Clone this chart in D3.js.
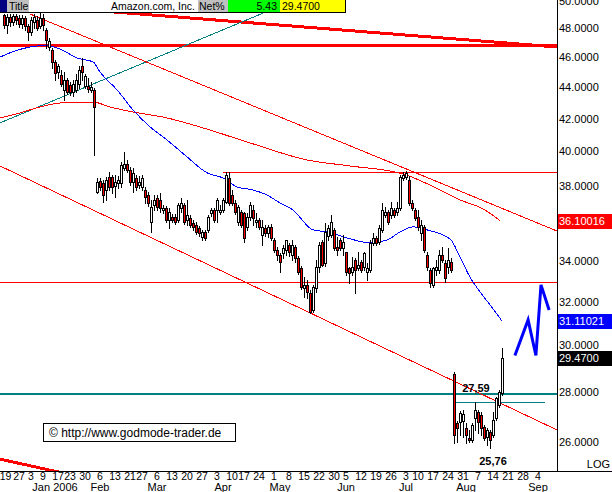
<!DOCTYPE html>
<html><head><meta charset="utf-8">
<script src="https://cdn.jsdelivr.net/npm/d3@7/dist/d3.min.js"></script>
<style>
body{margin:0;background:#fff}
svg{display:block}
text{font-family:"Liberation Sans",Arial,sans-serif}
</style>
</head><body>
<svg id="chart" width="612" height="492"></svg>
<script>
// ---------- DATA ----------
// trading-day index (0 = 3 Jan 2006)
const dayIndex = [-9,-8,-7,-6,-5,-4,-3,-2,-1,0,1,2,3,4,5,6,7,8,9,10,11,12,13,14,15,16,17,18,19,20,21,22,23,24,25,26,27,28,29,30,31,32,33,34,35,36,37,38,39,40,41,42,43,44,45,46,47,48,49,50,51,52,53,54,55,56,57,58,59,60,61,62,63,64,65,66,67,68,69,70,71,72,73,74,75,76,77,78,79,80,81,82,83,84,85,86,87,88,89,90,91,92,93,94,95,96,97,98,99,100,101,102,103,104,105,106,107,108,109,110,111,112,113,114,115,116,117,118,119,120,121,122,123,124,125,126,127,128,129,130,131,132,133,134,135,136,137,138,139,140,141,142,143,144,145,146,147,148,149,150,151,152,153,154,155,156,157];
const openP = [48.97,48.25,48.82,48.47,48.90,48.75,48.32,48.75,48.18,
47.75,48.47,48.61,48.18,48.75,47.89,46.70,46.49,45.68,45.00,
44.80,43.82,44.47,44.14,43.69,43.82,44.21,45.41,44.08,44.08,
43.82,43.82,37.67,38.29,38.17,37.78,38.52,38.52,38.01,38.17,
38.17,39.03,39.27,38.92,38.23,38.46,38.06,37.95,37.78,37.50,
36.03,36.95,37.33,37.23,36.68,36.79,36.14,36.30,36.30,36.14,
36.79,36.95,36.14,36.25,35.98,35.87,35.71,35.24,35.50,35.61,
36.52,36.68,36.68,36.57,36.68,37.11,38.46,37.50,37.06,36.03,
36.57,36.52,35.77,36.30,36.68,36.03,36.14,35.34,35.71,35.45,
35.77,35.08,34.57,34.31,34.41,34.57,34.82,34.31,34.72,34.16,
33.66,32.67,32.82,32.43,31.62,32.67,33.71,34.98,33.91,35.29,
35.34,35.61,34.72,35.08,34.67,34.46,33.66,33.46,34.06,33.66,
33.96,33.71,33.46,33.56,34.93,35.19,34.98,35.61,36.41,36.57,
36.41,36.68,36.57,36.79,38.46,38.52,38.35,37.06,36.68,36.30,
35.45,35.77,34.31,33.56,32.82,33.56,33.56,34.31,33.91,33.71,
33.96,28.76,26.75,26.79,26.83,26.55,26.16,26.08,26.95,27.19,
27.07,26.59,26.20,26.39,26.27,26.95,27.47,27.96];
const highP = [49.04,49.04,49.04,49.04,49.04,48.97,48.97,48.90,48.32,
48.82,49.04,48.90,49.10,49.04,48.03,47.33,46.63,45.81,45.54,
45.14,45.00,44.60,44.34,44.47,44.87,45.41,45.95,44.87,44.60,
44.34,43.95,38.46,38.46,38.35,38.52,38.80,38.63,38.63,38.57,
39.38,39.97,39.50,39.09,39.03,38.63,38.57,38.63,37.95,37.67,
37.23,37.50,37.50,37.61,36.95,36.90,36.79,36.46,36.46,37.06,
37.33,37.06,37.23,36.41,36.14,36.03,35.82,35.61,35.61,36.41,
36.79,36.79,37.33,36.95,37.33,38.80,38.80,37.78,37.23,36.95,
36.68,36.57,36.52,37.11,36.95,36.52,36.25,36.14,35.87,35.87,
35.92,35.19,34.72,34.41,34.82,35.08,34.93,35.08,34.82,34.26,
33.76,33.21,33.06,32.58,32.82,34.06,34.98,35.08,35.98,35.87,
36.41,35.71,35.24,35.19,35.34,34.46,33.71,34.21,34.16,34.46,
34.06,34.46,33.91,35.08,35.45,35.29,35.87,37.06,36.84,36.68,
37.11,36.79,37.11,38.63,38.80,38.86,38.57,37.23,36.79,36.68,
36.14,35.87,34.46,33.66,33.71,34.06,34.57,34.72,34.06,34.67,
34.16,28.85,26.83,27.23,27.27,26.75,26.47,26.75,27.59,27.27,
27.19,26.67,26.55,26.47,27.19,27.79,28.09,29.89];
const lowP = [48.03,47.68,48.18,48.25,48.32,48.11,48.03,47.89,47.19,
47.54,48.03,47.89,48.03,47.89,46.63,46.49,45.27,44.47,44.60,
44.08,43.17,43.56,43.49,43.43,43.69,43.95,44.47,43.95,43.69,
43.69,39.79,37.61,37.78,37.11,37.23,37.78,37.61,37.39,37.89,
37.95,38.92,38.80,38.06,37.67,37.78,37.89,37.78,37.06,36.90,
35.50,36.68,36.68,36.57,36.52,36.03,35.71,36.03,35.92,36.03,
36.57,35.92,35.87,35.77,35.61,35.40,35.29,35.08,35.08,35.50,
36.36,36.03,36.03,36.46,36.57,37.06,36.95,36.95,36.46,35.87,
35.77,34.98,35.61,36.14,35.87,35.77,35.66,34.82,35.29,35.24,
35.08,34.46,34.06,33.46,34.16,34.31,34.26,34.06,33.96,33.36,
32.62,32.24,32.19,31.48,31.53,32.48,33.46,33.76,33.76,35.08,
35.24,34.57,34.31,34.57,34.31,33.31,32.92,33.31,32.43,33.56,
33.46,33.56,33.06,33.46,34.82,34.82,34.88,35.50,36.30,35.92,
36.25,36.30,36.41,36.68,38.35,38.40,36.95,36.68,36.14,35.61,
35.08,34.46,33.56,32.72,32.72,33.31,33.41,33.96,32.96,33.41,
33.46,25.97,26.00,26.27,26.20,25.97,26.00,26.00,26.47,26.35,
26.27,26.08,25.89,25.76,26.20,26.87,27.39,27.88];
const closeP = [48.25,48.82,48.47,48.90,48.61,48.32,48.75,48.18,47.75,
48.61,48.82,48.03,48.75,48.25,47.19,47.12,45.68,44.94,45.41,
44.21,44.47,43.69,43.69,44.21,44.47,45.14,45.00,44.74,43.88,
44.01,42.72,38.23,37.95,37.50,38.35,37.95,37.95,38.23,38.35,
39.21,39.27,38.92,38.23,38.75,37.95,38.23,38.46,37.39,37.06,
36.84,37.23,36.84,36.79,36.79,36.14,36.57,36.14,36.03,36.95,
37.06,36.03,36.41,35.87,35.77,35.50,35.45,35.50,35.19,36.30,
36.68,36.14,37.23,36.68,37.23,38.63,37.06,37.06,36.57,36.84,
35.87,35.19,36.30,36.95,36.25,36.14,35.77,35.77,35.45,35.77,
35.19,34.57,34.31,33.96,34.67,35.08,34.46,34.82,34.16,33.46,
32.72,32.82,32.48,31.53,32.72,33.71,34.82,33.81,35.50,35.71,
36.03,34.67,34.57,34.67,34.98,33.46,33.41,33.71,33.56,33.81,
33.56,34.41,33.66,34.93,35.19,34.93,35.71,36.68,36.57,36.03,
36.79,36.41,36.79,38.52,38.63,38.75,37.06,36.79,36.25,35.77,
35.87,34.57,33.71,32.92,33.66,33.71,34.31,34.06,33.16,34.06,
33.56,26.27,26.55,27.15,27.11,26.27,26.08,26.67,27.27,26.79,
26.55,26.16,26.47,26.08,26.87,27.75,28.00,29.47];

// moving averages (day index, price)
const blueMaDays = [-10.3,-5.3,-0.3,4.7,9.7,15.3,20.7,23,28.7,34,39.7,45.3,52,58.7,64,68.7,74,78.7,83,87.3,94,98.7,105.3,113,118.7,123,127.3,132,139.7,143,146.3,149.7,153,157];
const blueMaVals = [46.01,46.43,46.70,46.80,46.56,45.95,45.68,45.00,43.82,42.54,41.48,40.69,39.68,38.75,38.46,37.95,37.78,37.50,37.06,36.68,35.61,35.50,35.19,34.93,35.08,35.50,35.77,35.61,35.13,34.21,33.21,32.48,31.86,31.11021];
const redMaDays = [-10.3,-3.7,3,9.7,20.7,26.3,34,45.3,56.3,73,92,106.3,124,133,143,151.3,156.3];
const redMaVals = [42.04,42.35,42.73,42.98,43.04,42.73,42.41,42.04,41.48,40.51,39.50,39.15,38.69,38.06,37.23,36.68,36.10016];

// trend lines: [startDay, startPrice, endDay, endPrice]
const trendLines = [
  {name:"topThick", pts:[23, 49.27, 175.33, 46.70]},
  {name:"teal",     pts:[-10.33, 41.73, 80, 49.35]},
  {name:"channelA", pts:[-0.33, 49.04, 175.33, 35.55]},
  {name:"channelB", pts:[-10.33, 39.15, 175.33, 26.47]},
  {name:"lowThick", pts:[-10.33, 25.35, 12, 24.80]}
];
// horizontal levels: [price, fromDay, toDay]
const levels = [
  {name:"red46", v:46.84, from:-10.33, to:175.33},
  {name:"red38", v:38.80, from:64, to:175.33},
  {name:"red33", v:32.97, from:-10.33, to:175.33},
  {name:"teal28", v:27.92, from:-10.33, to:175.33},
  {name:"teal2759", v:27.59, from:141.7, to:171.3}
];
// projected zig-zag
const projDays = [161.3,165.7,168.3,170,172.7];
const projVals = [29.56,31.16,29.56,32.82,31.62];

const tickDays = [-9,-4,0,4,9,13,18,23,28,33,37,42,47,52,57,62,67,71,76,81,86,91,96,101,105,110,115,120,125,129,134,139,144,149,154,159,164,169];
const tickLabels = ["19","27","3","9","17","23","30","6","13","21","27","6","13","20","27","3","10","17","24","1","8","15","22","30","5","12","19","26","3","10","17","24","31","7","14","21","28","4"];
const monthDays = [8,23,42,64,83,105,125,145,169];
const monthLabels = ["Jan 2006","Feb","Mar","Apr","May","Jun","Jul","Aug","Sep"];
const yTicks = [26,28,30,32,34,38,40,42,44,46,48,50];
const lastLabels = [
  {v:36.10016, text:"36.10016", fill:"#ff0000"},
  {v:31.11021, text:"31.11021", fill:"#0000ff"},
  {v:29.47, text:"29.4700", fill:"#000000"}
];
const titleText = "Amazon.com, Inc.";
const netPct = "5.43";
const lastPrice = "29.4700";
const markHigh = {day:148.3, v:27.59, text:"27,59"};
const markLow = {day:153, v:25.76, text:"25,76"};

// ---------- DRAW ----------
const W = 612, H = 492, plotR = 557, plotB = 471, plotT = 13;
const svg = d3.select("#chart");
const x = d3.scaleLinear().domain([-10.333, 175.333]).range([0, plotR]);
const y = d3.scaleLog().domain([24.907, 50.07]).range([plotB, 0]);

svg.append("defs").append("clipPath").attr("id","plot")
  .append("rect").attr("x",0).attr("y",plotT).attr("width",plotR).attr("height",plotB-plotT);

const g = svg.append("g").attr("clip-path","url(#plot)");

// horizontal levels
const levelStyle = {red46:["#ff0000",3], red38:["#ff0000",1], red33:["#ff0000",1], teal28:["#008080",2], teal2759:["#008080",1]};
levels.forEach(l=>{
  const st = levelStyle[l.name];
  let yy = Math.round(y(l.v));
  const off = st[1]%2===1 ? 0.5 : 0;
  g.append("line").attr("x1",x(l.from)).attr("x2",x(l.to))
    .attr("y1",yy+off).attr("y2",yy+off)
    .attr("stroke",st[0]).attr("stroke-width",st[1]).attr("shape-rendering","crispEdges");
});

// trend lines
const tlStyle = {topThick:["#ff0000",3], teal:["#008080",1], channelA:["#ff0000",1], channelB:["#ff0000",1], lowThick:["#ff0000",3]};
trendLines.forEach(t=>{
  const st = tlStyle[t.name];
  g.append("line").attr("x1",x(t.pts[0])).attr("y1",y(t.pts[1]))
    .attr("x2",x(t.pts[2])).attr("y2",y(t.pts[3]))
    .attr("stroke",st[0]).attr("stroke-width",st[1]).attr("shape-rendering","crispEdges");
});

// moving averages
const line = d3.line().x(d=>x(d[0])).y(d=>y(d[1])).curve(d3.curveMonotoneX);
g.append("path").attr("d", line(redMaDays.map((d,i)=>[d,redMaVals[i]])))
  .attr("fill","none").attr("stroke","#ff0000").attr("stroke-width",1).attr("shape-rendering","crispEdges");
g.append("path").attr("d", line(blueMaDays.map((d,i)=>[d,blueMaVals[i]])))
  .attr("fill","none").attr("stroke","#0000ff").attr("stroke-width",1).attr("shape-rendering","crispEdges");

// candles
const candles = dayIndex.map((d,i)=>({d, o:openP[i], h:highP[i], l:lowP[i], c:closeP[i]}));
const cg = g.append("g").attr("shape-rendering","crispEdges");
cg.selectAll("line.w").data(candles).join("line").attr("class","w")
  .attr("x1",d=>Math.round(x(d.d))+0.5).attr("x2",d=>Math.round(x(d.d))+0.5)
  .attr("y1",d=>Math.round(y(d.h))).attr("y2",d=>Math.round(y(d.l))+1)
  .attr("stroke","#000").attr("stroke-width",1);
cg.selectAll("rect.b").data(candles).join("rect").attr("class","b")
  .attr("x",d=>Math.round(x(d.d))-0.5)
  .attr("y",d=>Math.round(y(Math.max(d.o,d.c)))+0.5)
  .attr("width",2)
  .attr("height",d=>Math.max(0, Math.round(y(Math.min(d.o,d.c)))-Math.round(y(Math.max(d.o,d.c)))))
  .attr("fill",d=>d.c<d.o?"#ff0000":"#ffffff")
  .attr("stroke","#000").attr("stroke-width",1);

// projection zig-zag
g.append("path").attr("d", d3.line().x(d=>x(d[0])).y(d=>y(d[1]))(projDays.map((d,i)=>[d,projVals[i]])))
  .attr("fill","none").attr("stroke","#0000ff").attr("stroke-width",3).attr("stroke-linejoin","miter");

// annotations
svg.append("text").attr("x",x(markHigh.day)).attr("y",y(markHigh.v)-10).attr("text-anchor","middle")
  .attr("font-size",11).attr("font-weight","bold").text(markHigh.text);
svg.append("text").attr("x",x(markLow.day)+3).attr("y",y(markLow.v)+17).attr("text-anchor","middle")
  .attr("font-size",11).attr("font-weight","bold").text(markLow.text);

// copyright box
svg.append("rect").attr("x",43.5).attr("y",423.5).attr("width",192).attr("height",18)
  .attr("fill","#fff").attr("stroke","#000");
svg.append("text").attr("x",49).attr("y",437).attr("font-size",12).text("\u00A9 http://www.godmode-trader.de");

// axes lines
svg.append("line").attr("x1",plotR+0.5).attr("x2",plotR+0.5).attr("y1",0).attr("y2",plotB+1).attr("stroke","#000");
svg.append("line").attr("x1",0).attr("x2",W).attr("y1",plotB+0.5).attr("y2",plotB+0.5).attr("stroke","#000");

// y labels
svg.selectAll("text.yl").data(yTicks).join("text").attr("class","yl")
  .attr("x",plotR+2).attr("y",d=>y(d)).attr("dy","0.36em").attr("font-size",11)
  .text(d=>d3.format(".4f")(d));
svg.append("text").attr("x",610).attr("y",plotB-3).attr("text-anchor","end").attr("font-size",11).text("LOG");

// last value labels
lastLabels.forEach(l=>{
  const yy = Math.round(y(l.v));
  svg.append("rect").attr("x",plotR+1).attr("y",yy-7).attr("width",W-plotR-1).attr("height",15).attr("fill",l.fill);
  svg.append("text").attr("x",plotR+2).attr("y",yy).attr("dy","0.36em").attr("font-size",11).attr("fill","#fff").text(l.text);
});

// x labels
svg.selectAll("text.xl").data(tickDays).join("text").attr("class","xl")
  .attr("x",d=>Math.max(5.5, x(d))).attr("y",480).attr("text-anchor","middle").attr("font-size",10.5)
  .text((d,i)=>tickLabels[i]);
svg.selectAll("text.ml").data(monthDays).join("text").attr("class","ml")
  .attr("x",d=>x(d)).attr("y",491).attr("text-anchor","middle").attr("font-size",11)
  .text((d,i)=>monthLabels[i]);

// title bar
const tb = svg.append("g").attr("shape-rendering","crispEdges");
tb.append("rect").attr("x",0).attr("y",0).attr("width",345).attr("height",12).attr("fill","#fff");
tb.append("rect").attr("x",0).attr("y",0).attr("width",7).attr("height",12).attr("fill","#000080");
tb.append("rect").attr("x",7).attr("y",0).attr("width",22).attr("height",12).attr("fill","#c0c0c0");
tb.append("rect").attr("x",198).attr("y",0).attr("width",30).attr("height",12).attr("fill","#c0c0c0");
tb.append("rect").attr("x",228).attr("y",0).attr("width",52).attr("height",12).attr("fill","#00ff00");
tb.append("rect").attr("x",280).attr("y",0).attr("width",65).attr("height",12).attr("fill","#ffff00");
tb.append("line").attr("x1",0).attr("x2",345).attr("y1",12.5).attr("y2",12.5).attr("stroke","#000");
tb.append("line").attr("x1",345.5).attr("x2",345.5).attr("y1",0).attr("y2",13).attr("stroke","#000");
tb.append("text").attr("x",9).attr("y",10).attr("font-size",10.5).text("Title");
tb.append("text").attr("x",195).attr("y",10).attr("text-anchor","end").attr("font-size",10.5).text(titleText);
tb.append("text").attr("x",199).attr("y",10).attr("font-size",10.5).text("Net%");
tb.append("text").attr("x",277).attr("y",10).attr("text-anchor","end").attr("font-size",10.5).text(netPct);
tb.append("text").attr("x",282).attr("y",10).attr("font-size",10.5).text(lastPrice);
</script>
</body></html>
